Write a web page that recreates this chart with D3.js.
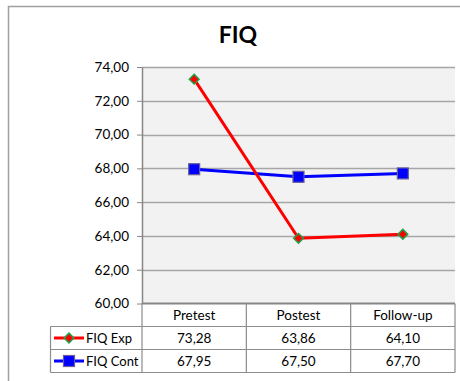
<!DOCTYPE html>
<html>
<head>
<meta charset="utf-8">
<script src="https://cdn.jsdelivr.net/npm/d3@7"></script>
<style>
  body { margin: 0; background: #fff; }
  text { font-family: Lato, "Open Sans", sans-serif; fill: #000; }
</style>
</head>
<body>
<div id="chart"></div>
<script>
const width = 460, height = 381;
const margin = ({ top: 67, right: 5, bottom: 78, left: 142 });

const categories = ["Pretest", "Postest", "Follow-up"];
const seriesNames = ["FIQ Exp", "FIQ Cont"];
const fiqExp = [73.28, 63.86, 64.10];
const fiqCont = [67.95, 67.50, 67.70];
const yTicks = [60, 62, 64, 66, 68, 70, 72, 74];

const fmt = v => d3.format(".2f")(v).replace(".", ",");

const series = [
  { name: seriesNames[0], values: fiqExp, color: "#ff0000", marker: "diamond" },
  { name: seriesNames[1], values: fiqCont, color: "#0000ff", marker: "square" }
];

const svg = d3.select("#chart").append("svg")
  .attr("width", width).attr("height", height);

// outer frame (cropped on right/bottom)
svg.append("path")
  .attr("d", `M8.5,${height}V6.5H${width}`)
  .attr("fill", "none").attr("stroke", "#a0a0a0").attr("stroke-width", 1.5);

svg.append("text")
  .attr("x", 238).attr("y", 43)
  .attr("text-anchor", "middle")
  .style("font-size", "23px").style("font-weight", "bold")
  .text("FIQ");

const plotBottom = 303.5;

const x = d3.scaleBand()
  .domain(categories)
  .range([margin.left, width - margin.right]);

const y = d3.scaleLinear()
  .domain([60, 74])
  .range([plotBottom, margin.top]);

svg.append("rect")
  .attr("x", margin.left).attr("y", margin.top)
  .attr("width", width - margin.right - margin.left)
  .attr("height", plotBottom - margin.top)
  .attr("fill", "#f2f2f2");

// gridlines
svg.append("g")
  .selectAll("line")
  .data(yTicks.filter(d => d > 60))
  .join("line")
  .attr("x1", margin.left).attr("x2", width - margin.right)
  .attr("y1", d => Math.round(y(d)) + 0.5).attr("y2", d => Math.round(y(d)) + 0.5)
  .attr("stroke", "#a6a6a6").attr("stroke-width", 1.5);

// y axis
const yAxis = svg.append("g")
  .attr("transform", `translate(${margin.left},0)`)
  .call(d3.axisLeft(y).tickValues(yTicks).tickFormat(fmt).tickSize(5).tickSizeOuter(0).tickPadding(8));
yAxis.select(".domain").attr("stroke", "#868686").attr("stroke-width", 1.5);
yAxis.selectAll(".tick line").attr("stroke", "#868686");
yAxis.selectAll(".tick text").style("font-size", "13.5px")
  .style("font-family", "Lato, sans-serif").attr("fill", "#000");

// data table
const rowH = 23;
const tableLeft = 50.5;
const rows = [plotBottom, plotBottom + rowH, plotBottom + 2 * rowH, plotBottom + 3 * rowH];
const tbl = svg.append("g").attr("fill", "none").attr("stroke", "#8c8c8c").attr("stroke-width", 1.2);

tbl.append("line").attr("x1", margin.left).attr("x2", width - margin.right)
  .attr("y1", rows[0]).attr("y2", rows[0]).attr("stroke", "#868686").attr("stroke-width", 2);
rows.slice(1).forEach(r => {
  tbl.append("line").attr("x1", tableLeft).attr("x2", width - margin.right)
    .attr("y1", r).attr("y2", r);
});
tbl.append("line").attr("x1", tableLeft).attr("x2", tableLeft).attr("y1", rows[1]).attr("y2", rows[3]);
const colEdges = categories.map(c => x(c)).concat([width - margin.right]);
colEdges.forEach(cx => {
  tbl.append("line").attr("x1", cx).attr("x2", cx).attr("y1", rows[0]).attr("y2", rows[3]);
});

svg.append("g").selectAll("text")
  .data(categories).join("text")
  .attr("x", d => x(d) + x.bandwidth() / 2)
  .attr("y", rows[0] + 16.5)
  .attr("text-anchor", "middle")
  .style("font-size", "13.5px")
  .text(d => d);

function drawMarker(g, type, cx, cy, color) {
  if (type === "diamond") {
    g.append("path")
      .attr("d", d3.symbol(d3.symbolDiamond2, 60)())
      .attr("transform", `translate(${cx},${cy})`)
      .attr("fill", color).attr("stroke", "#22a04a").attr("stroke-width", 1.5);
  } else {
    g.append("rect")
      .attr("x", cx - 5.5).attr("y", cy - 5.5).attr("width", 11).attr("height", 11)
      .attr("fill", color).attr("stroke", "#6a5f9a").attr("stroke-width", 1.2);
  }
}

series.forEach((s, i) => {
  const ry = rows[i + 1] + rowH / 2;
  const lg = svg.append("g");
  lg.append("line").attr("x1", 54).attr("x2", 84).attr("y1", ry).attr("y2", ry)
    .attr("stroke", s.color).attr("stroke-width", 3);
  drawMarker(lg, s.marker, 69, ry, s.color);
  lg.append("text").attr("x", 86).attr("y", ry + 5)
    .style("font-size", "13px").text(s.name);
  svg.append("g").selectAll("text")
    .data(s.values).join("text")
    .attr("x", (d, j) => x(categories[j]) + x.bandwidth() / 2)
    .attr("y", ry + 5)
    .attr("text-anchor", "middle")
    .style("font-size", "13.5px")
    .text(d => fmt(d));
});

// lines
const line = d3.line()
  .x((d, j) => x(categories[j]) + x.bandwidth() / 2)
  .y(d => y(d));

series.slice().reverse().forEach(s => {
  svg.append("path")
    .datum(s.values)
    .attr("d", line)
    .attr("fill", "none")
    .attr("stroke", s.color)
    .attr("stroke-width", 3)
    .attr("stroke-linejoin", "round");
});
series.slice().reverse().forEach(s => {
  const mg = svg.append("g");
  s.values.forEach((v, j) => drawMarker(mg, s.marker, x(categories[j]) + x.bandwidth() / 2, y(v), s.color));
});
</script>
</body>
</html>
